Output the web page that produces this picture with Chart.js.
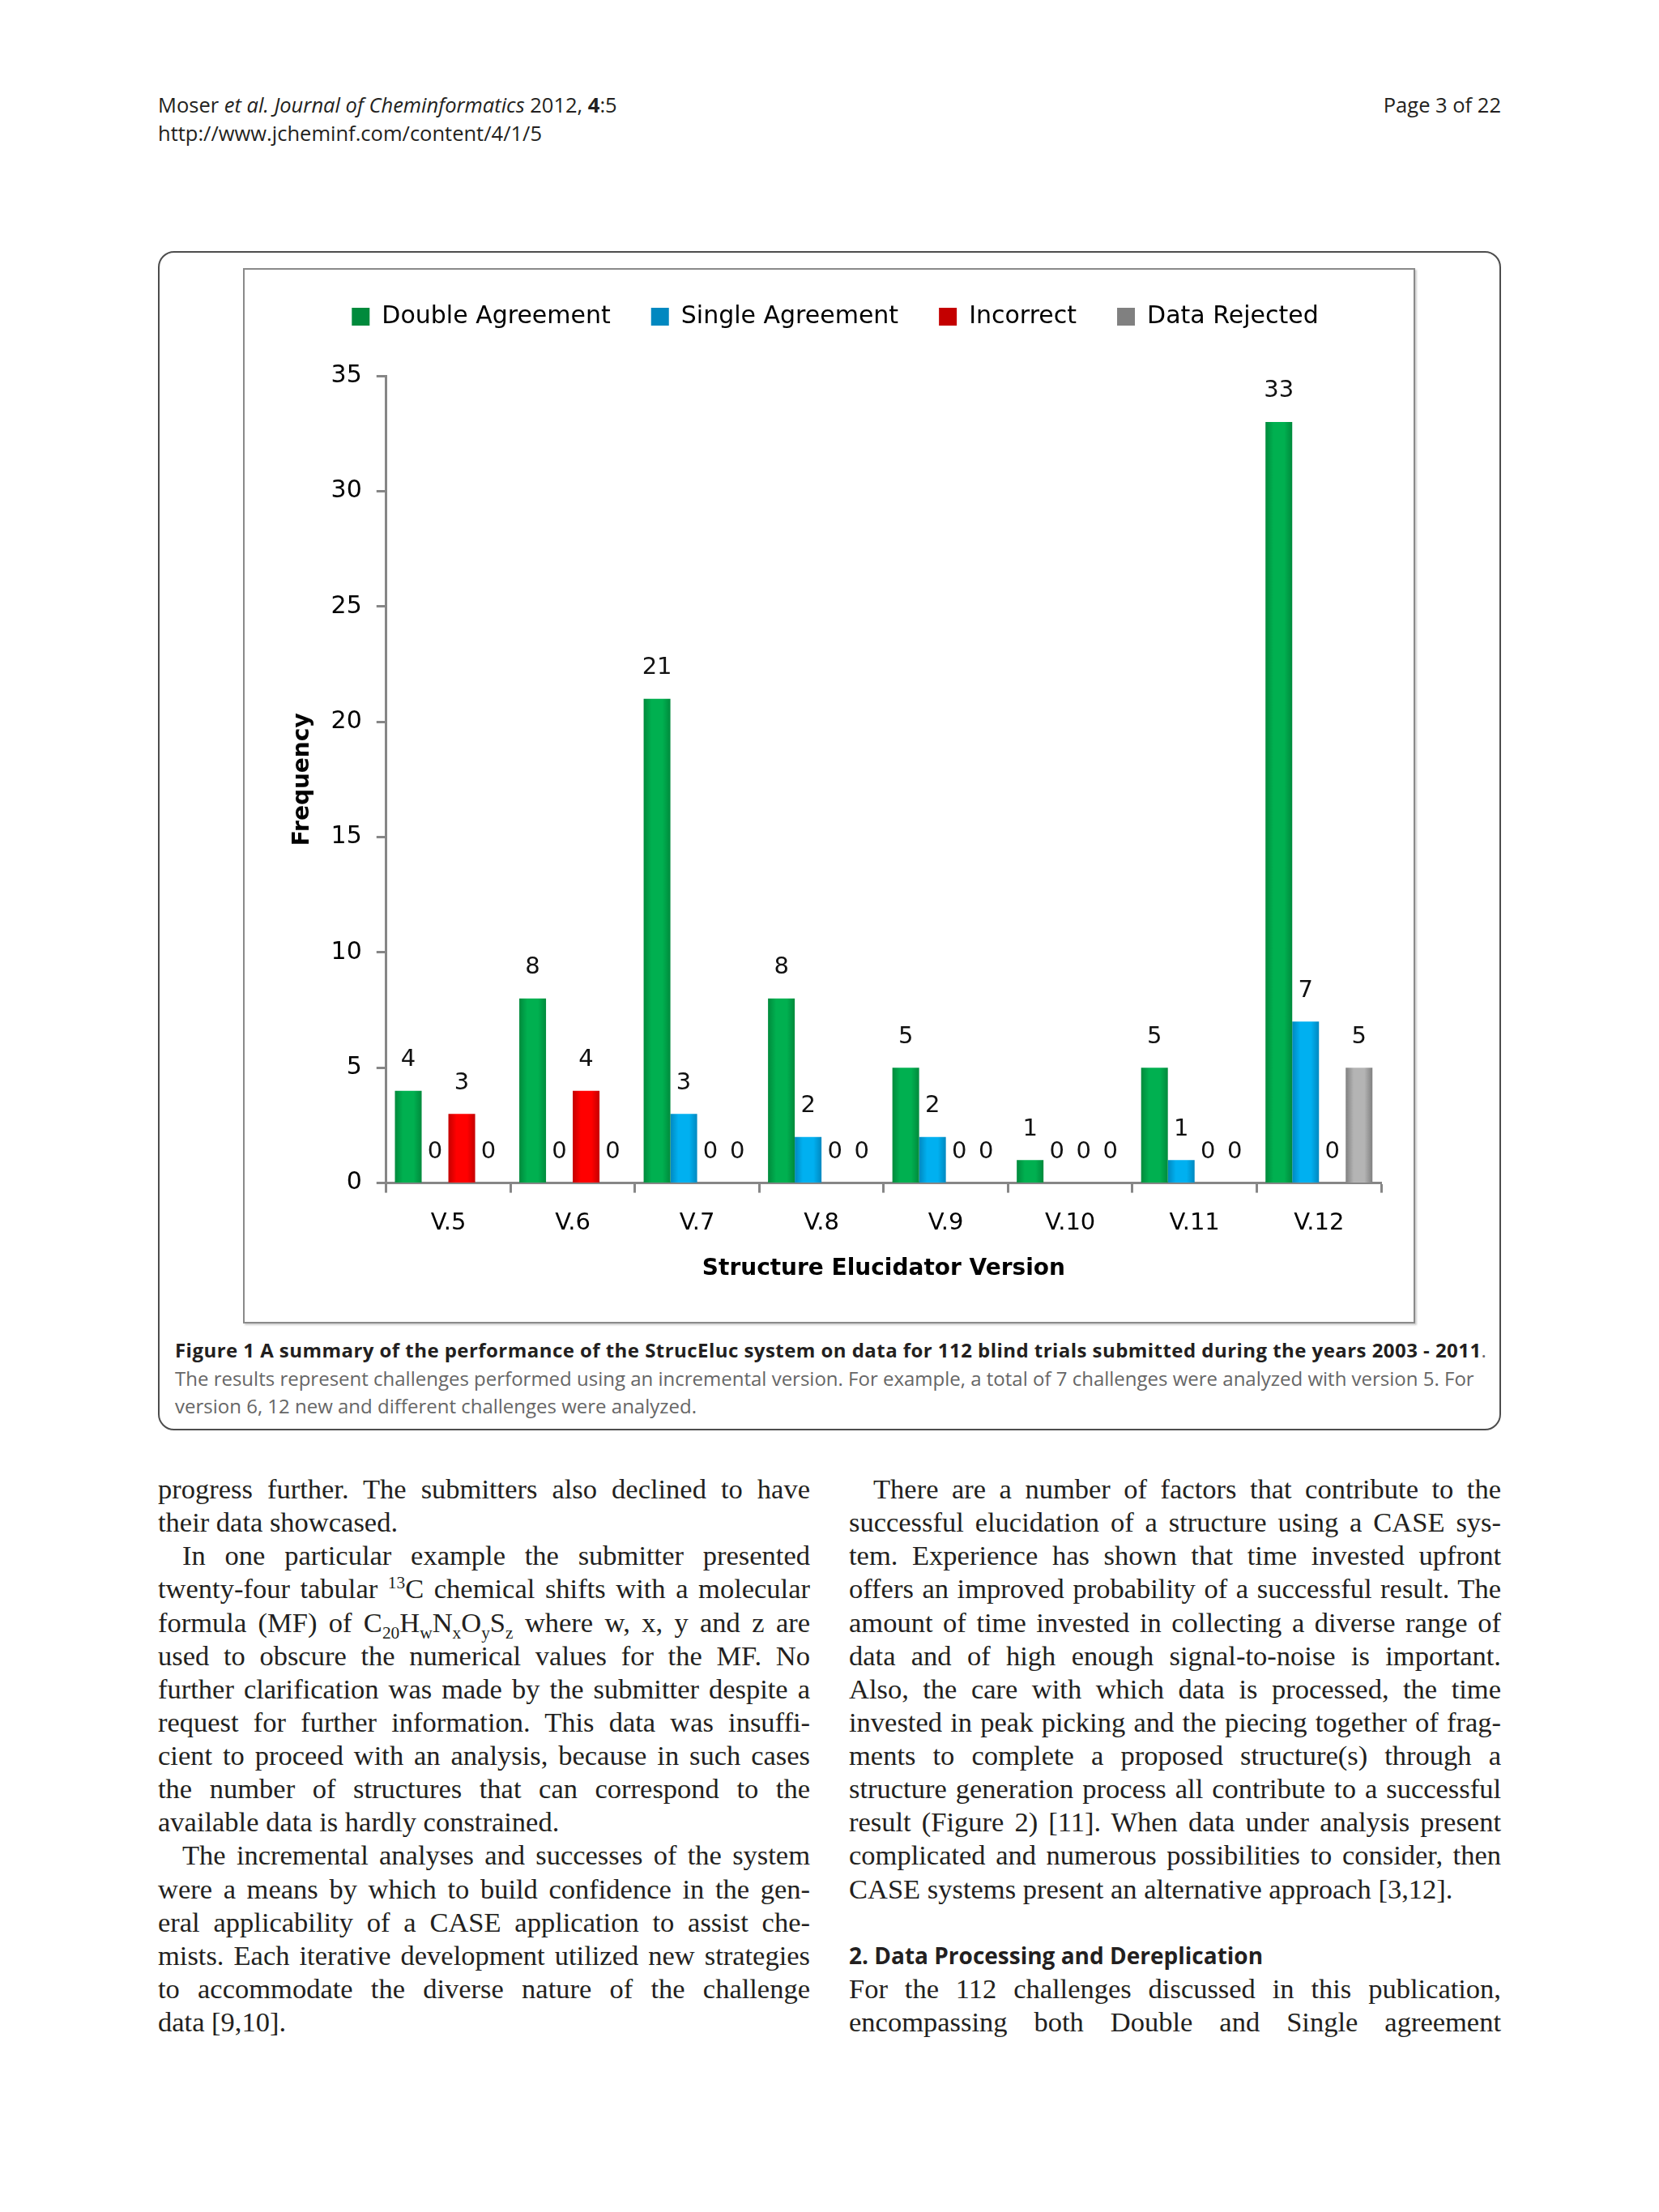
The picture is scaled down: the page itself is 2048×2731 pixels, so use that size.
<!DOCTYPE html>
<html>
<head>
<meta charset="utf-8">
<script src="https://cdn.jsdelivr.net/npm/chart.js@4.4.1/dist/chart.umd.min.js"></script>
<style>
  html, body { margin: 0; padding: 0; background: #fff; }
  body { width: 2048px; height: 2731px; position: relative; overflow: hidden; color: #231f20; }
  .hdr { position: absolute; font-family: "Open Sans", sans-serif; font-size: 25.5px; line-height: 35px; white-space: nowrap; color: #231f20; }
  .figbox { position: absolute; left: 195px; top: 310px; width: 1658px; height: 1456px; box-sizing: border-box; border: 2px solid #4d4d4d; border-radius: 20px; }
  .chartbox { position: absolute; left: 300px; top: 331px; width: 1447px; height: 1303px; box-sizing: border-box; border: 2px solid #8a8a8a; box-shadow: 2px 2px 2px #cfcfcf; background: #fff; }
  .chartbox canvas { position: absolute; left: 0; top: 0; }
  .caption { position: absolute; left: 216px; top: 1650px; width: 1620px; font-family: "Open Sans", sans-serif; font-size: 24px; line-height: 34.5px; color: #666; white-space: nowrap; }
  .caption b { color: #231f20; letter-spacing: 0.45px; }
  .col { position: absolute; top: 1818px; width: 805px; font-family: "Liberation Serif", serif; font-size: 34.5px; color: #231f20; }
  .col div { height: 41.14px; line-height: 41.14px; white-space: nowrap; overflow: visible; }
  .col .j { text-align: justify; text-align-last: justify; }
  .col .e { text-align: left; }
  .col .ind { padding-left: 30px; }
  .col sub, .col sup { font-size: 0.62em; line-height: 0; }
  .col .head { font-family: "Open Sans", sans-serif; font-weight: bold; font-size: 28px; }
</style>
</head>
<body>
<div class="hdr" style="left:195px; top:112px;">Moser <i>et al. Journal of Cheminformatics</i> 2012, <b>4</b>:5</div>
<div class="hdr" style="left:195px; top:147px;">http://www.jcheminf.com/content/4/1/5</div>
<div class="hdr" style="right:195px; top:112px;">Page 3 of 22</div>

<div class="figbox"></div>
<div class="chartbox"><canvas id="myChart" width="1443" height="1299"></canvas></div>

<div class="caption">
  <b>Figure 1 A summary of the performance of the StrucEluc system on data for 112 blind trials submitted during the years 2003 - 2011</b>.<br>
  The results represent challenges performed using an incremental version. For example, a total of 7 challenges were analyzed with version 5. For<br>
  version 6, 12 new and different challenges were analyzed.
</div>

<div class="col" style="left:195px;">
  <div class="j">progress further. The submitters also declined to have</div>
  <div class="e">their data showcased.</div>
  <div class="j ind">In one particular example the submitter presented</div>
  <div class="j">twenty-four tabular <sup>13</sup>C chemical shifts with a molecular</div>
  <div class="j">formula (MF) of C<sub>20</sub>H<sub>w</sub>N<sub>x</sub>O<sub>y</sub>S<sub>z</sub> where w, x, y and z are</div>
  <div class="j">used to obscure the numerical values for the MF. No</div>
  <div class="j">further clarification was made by the submitter despite a</div>
  <div class="j">request for further information. This data was insuffi-</div>
  <div class="j">cient to proceed with an analysis, because in such cases</div>
  <div class="j">the number of structures that can correspond to the</div>
  <div class="e">available data is hardly constrained.</div>
  <div class="j ind">The incremental analyses and successes of the system</div>
  <div class="j">were a means by which to build confidence in the gen-</div>
  <div class="j">eral applicability of a CASE application to assist che-</div>
  <div class="j">mists. Each iterative development utilized new strategies</div>
  <div class="j">to accommodate the diverse nature of the challenge</div>
  <div class="e">data [9,10].</div>
</div>

<div class="col" style="left:1048px;">
  <div class="j ind">There are a number of factors that contribute to the</div>
  <div class="j">successful elucidation of a structure using a CASE sys-</div>
  <div class="j">tem. Experience has shown that time invested upfront</div>
  <div class="j">offers an improved probability of a successful result. The</div>
  <div class="j">amount of time invested in collecting a diverse range of</div>
  <div class="j">data and of high enough signal-to-noise is important.</div>
  <div class="j">Also, the care with which data is processed, the time</div>
  <div class="j">invested in peak picking and the piecing together of frag-</div>
  <div class="j">ments to complete a proposed structure(s) through a</div>
  <div class="j">structure generation process all contribute to a successful</div>
  <div class="j">result (Figure 2) [11]. When data under analysis present</div>
  <div class="j">complicated and numerous possibilities to consider, then</div>
  <div class="e">CASE systems present an alternative approach [3,12].</div>
  <div class="e"></div>
  <div class="e head">2. Data Processing and Dereplication</div>
  <div class="j">For the 112 challenges discussed in this publication,</div>
  <div class="j">encompassing both Double and Single agreement</div>
</div>

<script>
const versions = ["V.5", "V.6", "V.7", "V.8", "V.9", "V.10", "V.11", "V.12"];
const doubleAgreement = [4, 8, 21, 8, 5, 1, 5, 33];
const singleAgreement = [0, 0, 3, 2, 2, 0, 1, 7];
const incorrect = [3, 4, 0, 0, 0, 0, 0, 0];
const dataRejected = [0, 0, 0, 0, 0, 0, 0, 5];
const seriesNames = ["Double Agreement", "Single Agreement", "Incorrect", "Data Rejected"];
const yMax = 35;
const yStep = 5;

const FONT = "DejaVu Sans";
const CAT_PCT = 0.86;

// shaded bar fill: dark edges, lighter middle
function shade(base, edge) {
    return function (c) {
        if (c.type !== "data") return base;
        const chart = c.chart;
        const x = chart.scales.x;
        if (!x || !chart.chartArea) return base;
        const cat = (x.right - x.left) / versions.length;
        const w = cat * CAT_PCT / seriesNames.length;
        const left = x.getPixelForValue(c.dataIndex) - cat * CAT_PCT / 2 + c.datasetIndex * w;
        if (!isFinite(left)) return base;
        const g = chart.ctx.createLinearGradient(left, 0, left + w, 0);
        g.addColorStop(0, edge);
        g.addColorStop(0.3, base);
        g.addColorStop(0.7, base);
        g.addColorStop(1, edge);
        return g;
    };
}

// value above every bar, zeros included
const valueLabels = {
    id: "valueLabels",
    afterDatasetsDraw(chart) {
        const ctx = chart.ctx;
        ctx.save();
        ctx.font = "29px '" + FONT + "'";
        ctx.fillStyle = "#111";
        ctx.textAlign = "center";
        ctx.textBaseline = "middle";
        chart.data.datasets.forEach((ds, i) => {
            chart.getDatasetMeta(i).data.forEach((bar, j) => {
                ctx.fillText(ds.data[j], bar.x, bar.y - 38);
            });
        });
        ctx.restore();
    }
};

// extra room under the legend
const legendGap = {
    id: "legendGap",
    beforeInit(chart) {
        if (!chart.legend) return;
        const fit = chart.legend.fit;
        chart.legend.fit = function () {
            fit.call(this);
            this.height += 48;
        };
    }
};

const ctx = document.getElementById("myChart").getContext("2d");
new Chart(ctx, {
    type: "bar",
    data: {
        labels: versions,
        datasets: [
            { label: seriesNames[0], data: doubleAgreement, backgroundColor: shade("#00b050", "#008a3c") },
            { label: seriesNames[1], data: singleAgreement, backgroundColor: shade("#00b0f0", "#0088c0") },
            { label: seriesNames[2], data: incorrect, backgroundColor: shade("#ff0000", "#c40000") },
            { label: seriesNames[3], data: dataRejected, backgroundColor: shade("#b4b4b4", "#808080") }
        ]
    },
    options: {
        responsive: false,
        animation: false,
        datasets: { bar: { categoryPercentage: CAT_PCT, barPercentage: 1, borderWidth: 0 } },
        layout: { padding: { top: -7, right: 40, bottom: 48, left: 55 } },
        plugins: {
            tooltip: { enabled: false },
            legend: {
                position: "top",
                labels: {
                    boxWidth: 22,
                    boxHeight: 22,
                    padding: 50,
                    color: "#000",
                    font: { family: FONT, size: 30 }
                }
            }
        },
        scales: {
            x: {
                grid: { drawOnChartArea: false, drawTicks: true, tickLength: 12, tickColor: "#868686", tickWidth: 3 },
                border: { display: true, color: "#868686", width: 3 },
                ticks: { color: "#000", padding: 20, font: { family: FONT, size: 29 } },
                title: {
                    display: true,
                    text: "Structure Elucidator Version",
                    color: "#000",
                    font: { family: FONT, size: 28, weight: "bold" },
                    padding: { top: 3, bottom: 0 }
                }
            },
            y: {
                min: 0,
                max: yMax,
                grid: { drawOnChartArea: false, drawTicks: true, tickLength: 12, tickColor: "#868686", tickWidth: 3 },
                border: { display: true, color: "#868686", width: 3 },
                ticks: { stepSize: yStep, color: "#000", padding: 18, font: { family: FONT, size: 30 } },
                title: {
                    display: true,
                    text: "Frequency",
                    color: "#000",
                    font: { family: FONT, size: 28, weight: "bold" },
                    padding: { top: 0, bottom: 0 }
                }
            }
        }
    },
    plugins: [valueLabels, legendGap]
});
</script>
</body>
</html>
